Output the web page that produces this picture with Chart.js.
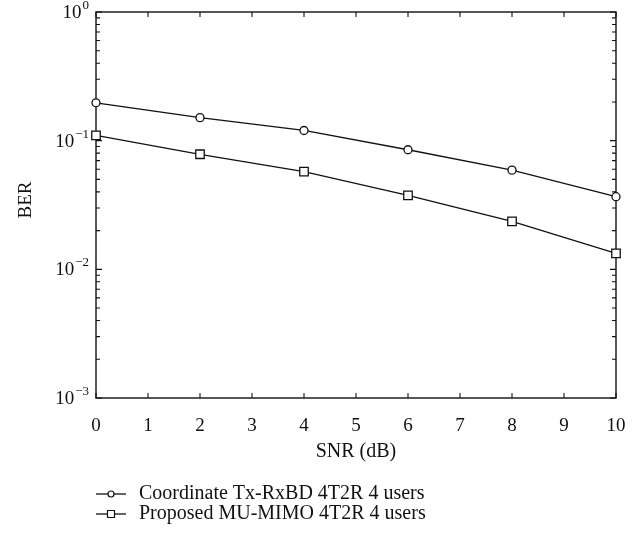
<!DOCTYPE html>
<html>
<head>
<meta charset="utf-8">
<script src="https://cdn.jsdelivr.net/npm/chart.js@4.4.4/dist/chart.umd.min.js"></script>
<style>
  html, body { margin: 0; padding: 0; background: #fff; }
  #wrap { width: 643px; height: 537px; }
</style>
</head>
<body>
<div id="wrap"><canvas id="chart" width="643" height="537"></canvas></div>
<script>
// values
const snr = [0, 2, 4, 6, 8, 10];
const berCoordinate = [0.197, 0.151, 0.120, 0.085, 0.059, 0.0367];
const berProposed = [0.110, 0.0784, 0.0574, 0.0376, 0.0236, 0.0133];
const seriesLabels = ["Coordinate Tx-RxBD 4T2R 4 users", "Proposed MU-MIMO 4T2R 4 users"];
const xTicks = [0, 1, 2, 3, 4, 5, 6, 7, 8, 9, 10];
const yDecades = [-3, -2, -1, 0];

const FONT = "'Liberation Serif', 'Times New Roman', serif";
const INK = "#111";

const toPoints = (ys) => snr.map((x, i) => ({x: x, y: ys[i]}));

// frame and inward ticks, like the matlab axes
const framePlugin = {
    id: "frame",
    beforeDatasetsDraw(chart) {
        const {ctx, chartArea: a, scales} = chart;
        ctx.save();
        ctx.strokeStyle = INK;
        ctx.lineWidth = 1.4;
        ctx.strokeRect(a.left, a.top, a.right - a.left, a.bottom - a.top);
        ctx.lineWidth = 1.1;
        ctx.beginPath();
        xTicks.forEach((v) => {
            const px = scales.x.getPixelForValue(v);
            ctx.moveTo(px, a.bottom); ctx.lineTo(px, a.bottom - 5);
            ctx.moveTo(px, a.top); ctx.lineTo(px, a.top + 5);
        });
        yDecades.forEach((d) => {
            for (let m = 1; m <= 9; m++) {
                if (d === 0 && m > 1) break;
                const py = scales.y.getPixelForValue(m * Math.pow(10, d));
                const len = m === 1 ? 6 : 4;
                ctx.moveTo(a.left, py); ctx.lineTo(a.left + len, py);
                ctx.moveTo(a.right, py); ctx.lineTo(a.right - len, py);
            }
        });
        ctx.stroke();
        ctx.restore();
    },
    afterDraw(chart) {
        const {ctx, chartArea: a, scales} = chart;
        ctx.save();
        ctx.fillStyle = INK;

        // y tick labels with superscript exponents
        yDecades.forEach((d) => {
            const py = scales.y.getPixelForValue(Math.pow(10, d));
            const exp = d < 0 ? "\u2212" + (-d) : String(d);
            ctx.font = "13px " + FONT;
            ctx.textAlign = "right";
            ctx.textBaseline = "alphabetic";
            const ew = ctx.measureText(exp).width;
            const right = a.left - 7;
            ctx.fillText(exp, right, py - 3);
            ctx.font = "19px " + FONT;
            ctx.fillText("10", right - ew - 1, py + 6);
        });

        // axis titles
        ctx.font = "20px " + FONT;
        ctx.textAlign = "center";
        ctx.textBaseline = "middle";
        ctx.fillText("SNR (dB)", (a.left + a.right) / 2, 452);
        ctx.save();
        ctx.translate(26, 200);
        ctx.rotate(-Math.PI / 2);
        ctx.font = "19px " + FONT;
        ctx.fillText("BER", 0, 0);
        ctx.restore();

        // legend
        const rows = [494, 514];
        chart.data.datasets.forEach((ds, i) => {
            const y = rows[i];
            ctx.strokeStyle = INK;
            ctx.lineWidth = 1.3;
            ctx.beginPath();
            ctx.moveTo(96, y); ctx.lineTo(126, y);
            ctx.stroke();
            ctx.fillStyle = "#fff";
            ctx.lineWidth = 1.2;
            ctx.beginPath();
            if (ds.pointStyle === "circle") {
                ctx.arc(111, y, 3, 0, Math.PI * 2);
            } else {
                ctx.rect(107.5, y - 3.5, 7, 7);
            }
            ctx.fill();
            ctx.stroke();
            ctx.fillStyle = INK;
            ctx.font = "20px " + FONT;
            ctx.textAlign = "left";
            ctx.textBaseline = "middle";
            ctx.fillText(ds.label, 139, y);
        });
        ctx.restore();
    }
};

new Chart(document.getElementById("chart"), {
    type: "line",
    data: {
        datasets: [
            {
                label: seriesLabels[0],
                data: toPoints(berCoordinate),
                borderColor: INK,
                borderWidth: 1.3,
                pointStyle: "circle",
                pointRadius: 4,
                pointBorderWidth: 1.3,
                pointBorderColor: INK,
                pointBackgroundColor: "#fff",
                tension: 0,
                clip: false,
            },
            {
                label: seriesLabels[1],
                data: toPoints(berProposed),
                borderColor: INK,
                borderWidth: 1.3,
                pointStyle: "rect",
                pointRadius: 6,
                pointBorderWidth: 1.3,
                pointBorderColor: INK,
                pointBackgroundColor: "#fff",
                tension: 0,
                clip: false,
            },
        ],
    },
    options: {
        responsive: false,
        animation: false,
        layout: {padding: {top: 12, right: 27, left: 0, bottom: 0}},
        plugins: {legend: {display: false}, tooltip: {enabled: false}},
        scales: {
            x: {
                type: "linear",
                min: 0,
                max: 10,
                afterBuildTicks: (s) => { s.ticks = xTicks.map((v) => ({value: v})); },
                afterFit: (s) => { s.height = 139; },
                ticks: {
                    color: INK,
                    padding: 9,
                    maxRotation: 0,
                    font: {family: FONT, size: 19},
                },
                grid: {display: false},
                border: {display: false},
            },
            y: {
                type: "logarithmic",
                min: 0.001,
                max: 1,
                afterFit: (s) => { s.width = 96; },
                ticks: {display: false},
                grid: {display: false},
                border: {display: false},
            },
        },
    },
    plugins: [framePlugin],
});
</script>
</body>
</html>
